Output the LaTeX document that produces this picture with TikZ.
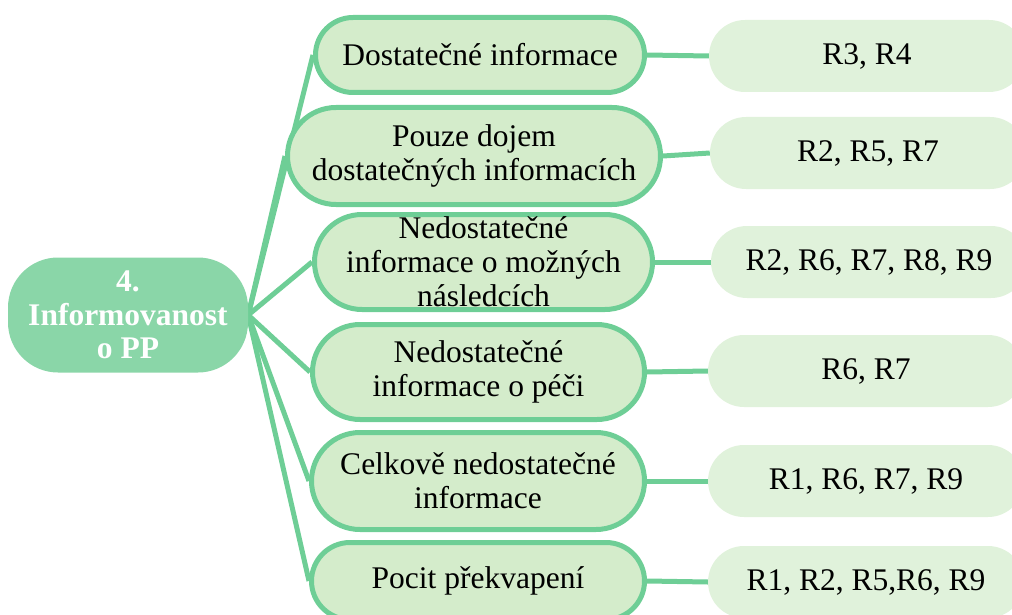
\documentclass[tikz,border=0pt]{standalone}
\usepackage{fontspec}
\setmainfont{Liberation Serif}
\pgfdeclarelayer{background}
\pgfsetlayers{background,main}
\definecolor{linegreen}{RGB}{110,206,150}
\definecolor{midfill}{RGB}{212,236,203}
\definecolor{rightfill}{RGB}{224,242,219}
\definecolor{rootfill}{RGB}{138,214,168}
\tikzset{
  txt/.style={font=\fontsize{31.5}{34}\selectfont, align=center, inner sep=0pt},
  rootbox/.style={txt, rectangle, rounded corners=50pt, fill=rootfill, text=white,
    font=\fontsize{31.5}{33.5}\selectfont\bfseries, minimum width=240pt, minimum height=115pt},
  % sub-topic pill: width, height, end radius
  midbox/.style n args={3}{txt, rectangle, draw=linegreen, line width=5pt, fill=midfill,
    minimum width=#1, minimum height=#2, rounded corners=#3},
  refbox/.style={txt, rectangle, rounded corners=36pt, fill=rightfill,
    minimum width=316pt, minimum height=72pt},
  conn/.style={draw=linegreen, line width=5pt}
}
\begin{document}
\begin{tikzpicture}[x=1pt,y=-1pt]
\useasboundingbox (0,0) rectangle (1012,615);
\clip (0,0) rectangle (1012,615);

% root topic
\node[rootbox] (root) at (128,315) {4.\\Informovanost\\o PP};

% sub-topics
\node[midbox={329pt}{75pt}{37.5pt}] (m1) at (480,55) {Dostatečné informace};
\node[midbox={373pt}{97pt}{48.5pt}] (m2) at (474,156) {Pouze dojem\\dostatečných informacích};
\node[midbox={338pt}{95pt}{47.5pt}] (m3) at (483.5,262) {Nedostatečné\\informace o možných\\následcích};
\node[midbox={332pt}{95pt}{47.5pt}] (m4) at (478.5,372) {Nedostatečné\\informace o péči};
\node[midbox={333pt}{97pt}{48.5pt}] (m5) at (478,481) {Celkově nedostatečné\\informace};
\node[midbox={333pt}{77pt}{38.5pt}] (m6) at (478,581) {Pocit překvapení};

% respondent lists
\node[refbox] (r1) at (867,56)  {R3, R4};
\node[refbox] (r2) at (868,153) {R2, R5, R7};
\node[refbox] (r3) at (869,262) {R2, R6, R7, R8, R9};
\node[refbox] (r4) at (866,371) {R6, R7};
\node[refbox] (r5) at (866,481) {R1, R6, R7, R9};
\node[refbox] (r6) at (866,582) {R1, R2, R5,R6, R9};

% connectors behind the boxes
\begin{pgfonlayer}{background}
  \foreach \m in {m1,m2,m3,m4,m5,m6}
    \draw[conn] (root.east) -- (\m.west);
  \draw[conn] (m1.east) -- (r1.west);
  \draw[conn] (m2.east) -- (r2.west);
  \draw[conn] (m3.east) -- (r3.west);
  \draw[conn] (m4.east) -- (r4.west);
  \draw[conn] (m5.east) -- (r5.west);
  \draw[conn] (m6.east) -- (r6.west);
\end{pgfonlayer}
\end{tikzpicture}
\end{document}
